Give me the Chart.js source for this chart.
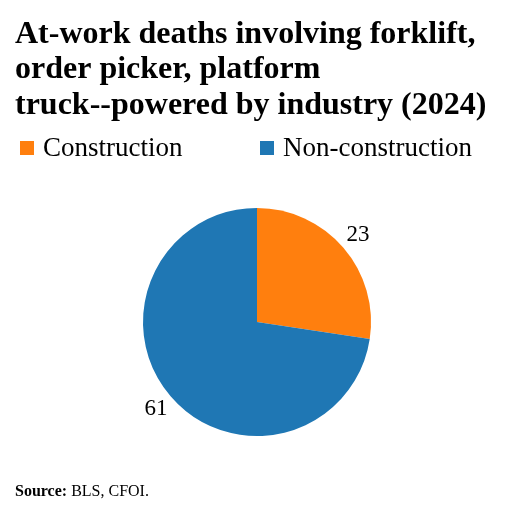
<!DOCTYPE html>
<html>
<head>
<meta charset="utf-8">
<script src="https://cdn.jsdelivr.net/npm/chart.js@4"></script>
<style>
  html, body { margin: 0; padding: 0; background: #fff; }
  #wrap { width: 514px; height: 514px; }
</style>
</head>
<body>
<div id="wrap"><canvas id="pieChart"></canvas></div>
<script>
// chart data
const categories = ['Construction', 'Non-construction'];
const deaths = [23, 61];
const sliceColors = ['#ff7f0e', '#1f77b4'];
const titleLines = [
    'At-work deaths involving forklift,',
    'order picker, platform',
    'truck--powered by industry (2024)'
];
const sourceLabel = 'Source:';
const sourceText = ' BLS, CFOI.';

const serif = "'Liberation Serif', 'Times New Roman', serif";

// legend row under the title (built-in legend can't space it like the original)
const legendRow = {
    id: 'legendRow',
    afterDraw(chart) {
        const ctx = chart.ctx;
        const starts = [20, 260];
        ctx.save();
        ctx.font = '27px ' + serif;
        ctx.textBaseline = 'alphabetic';
        chart.data.labels.forEach((label, i) => {
            ctx.fillStyle = chart.data.datasets[0].backgroundColor[i];
            ctx.fillRect(starts[i], 141, 14, 14);
            ctx.fillStyle = '#000';
            ctx.fillText(label, starts[i] + 23, 156);
        });
        ctx.restore();
    }
};

// value labels just outside each slice
const sliceLabels = {
    id: 'sliceLabels',
    afterDatasetsDraw(chart) {
        const ctx = chart.ctx;
        const meta = chart.getDatasetMeta(0);
        ctx.save();
        ctx.font = '23px ' + serif;
        ctx.fillStyle = '#000';
        ctx.textAlign = 'center';
        ctx.textBaseline = 'middle';
        meta.data.forEach((arc, i) => {
            const p = arc.getProps(['x', 'y', 'startAngle', 'endAngle', 'outerRadius'], true);
            const mid = (p.startAngle + p.endAngle) / 2;
            const r = p.outerRadius * 1.17;
            ctx.fillText(String(chart.data.datasets[0].data[i]), p.x + Math.cos(mid) * r, p.y + Math.sin(mid) * r);
        });
        ctx.restore();
    }
};

// source note at the bottom
const sourceNote = {
    id: 'sourceNote',
    afterDraw(chart) {
        const ctx = chart.ctx;
        ctx.save();
        ctx.fillStyle = '#000';
        ctx.textBaseline = 'alphabetic';
        ctx.font = 'bold 16px ' + serif;
        ctx.fillText(sourceLabel, 15, 496);
        const w = ctx.measureText(sourceLabel).width;
        ctx.font = '16px ' + serif;
        ctx.fillText(sourceText, 15 + w, 496);
        ctx.restore();
    }
};

new Chart(document.getElementById('pieChart').getContext('2d'), {
    type: 'pie',
    data: {
        labels: categories,
        datasets: [{
            data: deaths,
            backgroundColor: sliceColors,
            borderWidth: 0,
            hoverOffset: 0
        }]
    },
    options: {
        responsive: true,
        maintainAspectRatio: false,
        animation: false,
        layout: {
            padding: { left: 15, right: 15, top: 0, bottom: 78 }
        },
        plugins: {
            legend: { display: false },
            tooltip: { enabled: false },
            title: {
                display: true,
                text: titleLines,
                align: 'start',
                color: '#000',
                font: { family: serif, size: 32, weight: 'bold', lineHeight: '35.5px' },
                padding: { top: 16.5, bottom: 85 }
            }
        }
    },
    plugins: [legendRow, sliceLabels, sourceNote]
});
</script>
</body>
</html>
